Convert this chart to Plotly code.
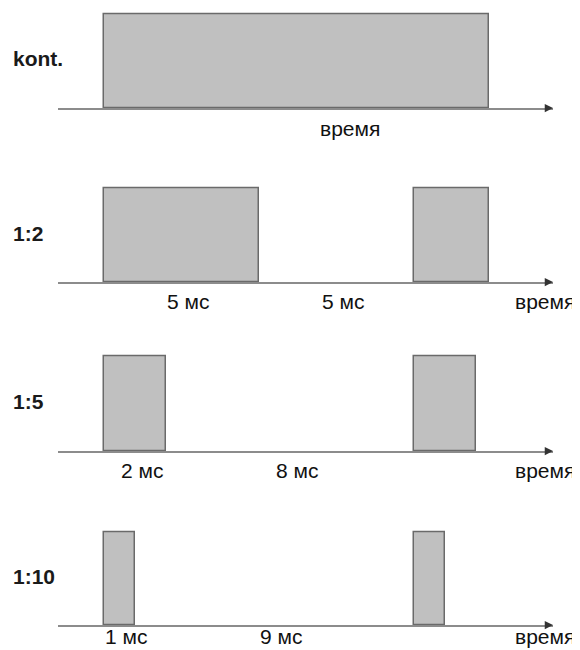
import plotly.graph_objects as go

# ---- data ----
row_labels = ["kont.", "1:2", "1:5", "1:10"]
pulse_starts = [[0], [0, 10], [0, 10], [0, 10]]          # ms
pulse_durations = [[12.4], [5, 2.4], [2, 2], [1, 1]]      # ms (last pulses cut off)
on_ms = [None, 5, 2, 1]
off_ms = [None, 5, 8, 9]
interval_labels = [[], ["5 мс", "5 мс"], ["2 мс", "8 мс"], ["1 мс", "9 мс"]]
axis_label = "время"

# ---- layout geometry (window pixels; page body has an 8px margin) ----
OFF = 8
W, H = 580 - OFF, 650 - OFF
axis_px = [p - OFF for p in [108, 282, 451, 625]]
top_px = [p - OFF for p in [14, 188, 356, 532]]
x_left_px, x_right_px = 58 - OFF, 553 - OFF
t_min, t_max = -1.5, 14.47
ymax = 1.03
label_shift = [-21, -19, -19, -11]

FONT = "Liberation Sans, Arial, sans-serif"
fill = "#c0c0c0"
edge = "#6a6a6a"
axis_col = "#8c8c8c"

fig = go.Figure()
layout = dict(
    width=W, height=H, margin=dict(l=0, r=0, t=0, b=0),
    paper_bgcolor="white", plot_bgcolor="white",
    showlegend=False, bargap=0, barmode="overlay",
)
annotations = []

for i in range(4):
    k = "" if i == 0 else str(i + 1)
    xa, ya = "x" + k, "y" + k
    hpx = axis_px[i] - top_px[i]
    dom_top = axis_px[i] - hpx * ymax
    layout["xaxis" + k] = dict(
        domain=[x_left_px / W, x_right_px / W], range=[t_min, t_max],
        showline=True, linecolor=axis_col, linewidth=2,
        showgrid=False, zeroline=False, showticklabels=False, ticks="",
        anchor=ya, fixedrange=True,
    )
    layout["yaxis" + k] = dict(
        domain=[1 - axis_px[i] / H, 1 - dom_top / H], range=[0, ymax],
        visible=False, anchor=xa, fixedrange=True,
    )
    starts = pulse_starts[i]
    durs = pulse_durations[i]
    fig.add_trace(go.Bar(
        x=[s + d / 2 for s, d in zip(starts, durs)],
        y=[1] * len(starts), width=durs, base=0,
        marker=dict(color=fill, line=dict(color=edge, width=1.5)),
        xaxis=xa, yaxis=ya, hoverinfo="skip",
    ))
    # arrow head at end of time axis
    annotations.append(dict(
        x=t_max, y=0, xref=xa, yref=ya, ax=-7, ay=0, text="",
        showarrow=True, arrowhead=2, arrowsize=1.1, arrowwidth=1.5,
        arrowcolor="#333333",
    ))
    # row label
    annotations.append(dict(
        x=(11 - OFF) / W, y=1 - ((axis_px[i] + top_px[i]) / 2 - 2) / H,
        xref="paper", yref="paper", text="<b>%s</b>" % row_labels[i],
        showarrow=False, xanchor="left", yanchor="middle",
        font=dict(family=FONT, size=21, color="#1a1a1a"),
    ))
    # interval labels
    if on_ms[i] is not None:
        mids = [on_ms[i] / 2, on_ms[i] + off_ms[i] / 2]
        for txt, m in zip(interval_labels[i], mids):
            annotations.append(dict(
                x=m + 0.2, y=0, xref=xa, yref=ya, text=txt, showarrow=False,
                xanchor="center", yanchor="middle", yshift=label_shift[i],
                font=dict(family=FONT, size=21, color="#111111"),
            ))
        annotations.append(dict(
            x=14.2, y=0, xref=xa, yref=ya, text=axis_label, showarrow=False,
            xanchor="center", yanchor="middle", yshift=label_shift[i],
            font=dict(family=FONT, size=21, color="#111111"),
        ))
    else:
        annotations.append(dict(
            x=7.92, y=0, xref=xa, yref=ya, text=axis_label, showarrow=False,
            xanchor="center", yanchor="middle", yshift=label_shift[i],
            font=dict(family=FONT, size=21, color="#111111"),
        ))

layout["annotations"] = annotations
fig.update_layout(**layout)
fig.write_html("out.html")
